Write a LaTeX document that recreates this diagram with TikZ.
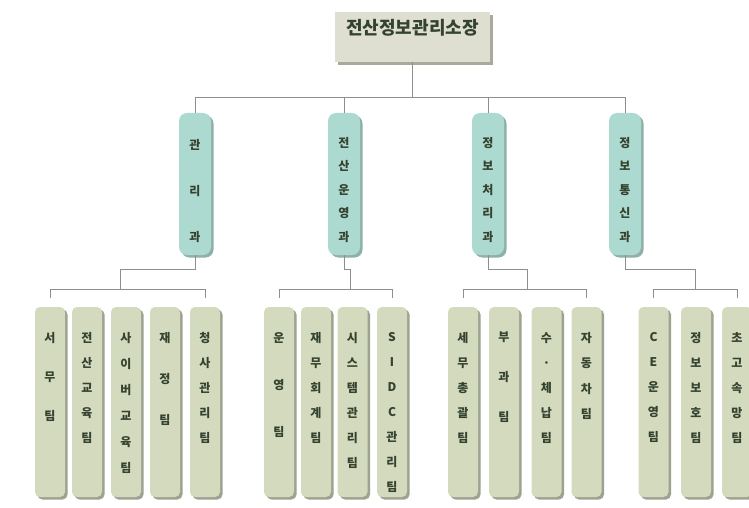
\documentclass[tikz,border=0pt]{standalone}
\usepackage{fontspec}
\newfontfamily\kfont{Noto Sans CJK KR}
\usetikzlibrary{shadows}
\definecolor{linegray}{HTML}{8E8E8E}
\definecolor{teamfill}{HTML}{D3DABD}
\definecolor{teamshadow}{HTML}{9EA290}
\definecolor{deptfill}{HTML}{ADDAD0}
\definecolor{deptshadow}{HTML}{8FB0A8}
\definecolor{topfill}{HTML}{DEDFD0}
\definecolor{topshadow}{HTML}{A9AA9A}
\definecolor{txtcol}{HTML}{34422F}
\tikzset{
  conn/.style={draw=linegray, line width=0.9pt},
  teambox/.style={rounded corners=5pt, fill=teamfill, minimum width=30pt, minimum height=190pt, inner sep=0pt,
    drop shadow={shadow xshift=2.5pt, shadow yshift=-2.5pt, fill=teamshadow, opacity=1}},
  deptbox/.style={rounded corners=8pt, fill=deptfill, minimum width=32pt, minimum height=142pt, inner sep=0pt,
    drop shadow={shadow xshift=2.5pt, shadow yshift=-2.5pt, fill=deptshadow, opacity=1}},
  topbox/.style={fill=topfill, minimum width=155pt, minimum height=50pt, inner sep=0pt,
    drop shadow={shadow xshift=3pt, shadow yshift=-3pt, fill=topshadow, opacity=1}},
  coltxt/.style={text=txtcol, align=center, inner sep=0pt, anchor=north},
  sp/.style={font=\kfont\bfseries\fontsize{12}{#1}\selectfont}
}
\begin{document}
\begin{tikzpicture}[x=1pt,y=-1pt]
\useasboundingbox (0,0) rectangle (749,508);
\fill[white] (0,0) rectangle (749,508);

% title
\node[topbox] (top) at (412.5,37) {};
\node[text=txtcol, inner sep=0pt, font=\kfont\bfseries\fontsize{18}{20}\selectfont] (toptxt) at (412.5,28) {전산정보관리소장};

% departments
\node[deptbox] (d1) at (195,184) {};
\node[deptbox] (d2) at (344,184) {};
\node[deptbox] (d3) at (488,184) {};
\node[deptbox] (d4) at (625,184) {};
\node[coltxt, sp=46] (d1t) at (195,139) {관\\리\\과};
\node[coltxt, sp=23.5] (d2t) at (344,137) {전\\산\\운\\영\\과};
\node[coltxt, sp=23.5] (d3t) at (488,137) {정\\보\\처\\리\\과};
\node[coltxt, sp=23.5] (d4t) at (625,137) {정\\보\\통\\신\\과};

% teams group 1
\node[teambox] (a1) at (50,402) {};
\node[teambox] (a2) at (87,402) {};
\node[teambox] (a3) at (126,402) {};
\node[teambox] (a4) at (165,402) {};
\node[teambox] (a5) at (205,402) {};
\node[coltxt, sp=39] (a1t) at (50,332) {서\\무\\팀};
\node[coltxt, sp=25] (a2t) at (87,332) {전\\산\\교\\육\\팀};
\node[coltxt, sp=26] (a3t) at (126,332) {사\\이\\버\\교\\육\\팀};
\node[coltxt, sp=41] (a4t) at (165,332) {재\\정\\팀};
\node[coltxt, sp=25] (a5t) at (205,332) {청\\사\\관\\리\\팀};

% teams group 2
\node[teambox] (b1) at (279,402) {};
\node[teambox] (b2) at (316,402) {};
\node[teambox] (b3) at (352.5,402) {};
\node[teambox] (b4) at (392,402) {};
\node[coltxt, sp=47] (b1t) at (279,332) {운\\영\\팀};
\node[coltxt, sp=25] (b2t) at (316,332) {재\\무\\회\\계\\팀};
\node[coltxt, sp=25] (b3t) at (352.5,332) {시\\스\\템\\관\\리\\팀};
\node[coltxt, sp=25] (b4t) at (392,332) {S\\I\\D\\C\\관\\리\\팀};

% teams group 3
\node[teambox] (c1) at (463,402) {};
\node[teambox] (c2) at (504,402) {};
\node[teambox] (c3) at (546.5,402) {};
\node[teambox] (c4) at (586.5,402) {};
\node[coltxt, sp=25] (c1t) at (463,332) {세\\무\\총\\괄\\팀};
\node[coltxt, sp=40] (c2t) at (504,332) {부\\과\\팀};
\node[coltxt, sp=25] (c3t) at (546.5,332) {수\\·\\체\\납\\팀};
\node[coltxt, sp=25.5] (c4t) at (586.5,332) {자\\동\\차\\팀};

% teams group 4
\node[teambox] (e1) at (653.5,402) {};
\node[teambox] (e2) at (696,402) {};
\node[teambox] (e3) at (737,402) {};
\node[coltxt, sp=25] (e1t) at (653.5,332) {C\\E\\운\\영\\팀};
\node[coltxt, sp=25] (e2t) at (696,332) {정\\보\\보\\호\\팀};
\node[coltxt, sp=25] (e3t) at (737,332) {초\\고\\속\\망\\팀};

% connectors: title to departments
\coordinate (busL) at (195,98);
\draw[conn] (top.south) -- (top.south |- busL);
\draw[conn] (d1.north) -- ++(0,-15) -| (d4.north);
\draw[conn] (d2.north) -- ++(0,-15);
\draw[conn] (d3.north) -- ++(0,-15);

% departments to team buses
\coordinate (g1) at (120,290);
\coordinate (g2) at (350,290);
\coordinate (g3) at (527,290);
\coordinate (g4) at (695,290);
\draw[conn] (d1.south) -- ++(0,14) -| (g1);
\draw[conn] (d2.south) -- ++(0,14) -| (g2);
\draw[conn] (d3.south) -- ++(0,14) -| (g3);
\draw[conn] (d4.south) -- ++(0,14) -| (g4);

% team buses
\draw[conn] ([yshift=9pt]a1.north) -- ++(0,-8) -| ([yshift=9pt]a5.north);
\draw[conn] ([yshift=9pt]b1.north) -- ++(0,-8) -| ([yshift=9pt]b4.north);
\draw[conn] ([yshift=9pt]c1.north) -- ++(0,-8) -| ([yshift=9pt]c4.north);
\draw[conn] ([yshift=9pt]e1.north) -- ++(0,-8) -| ([yshift=9pt]e3.north);
\end{tikzpicture}
\end{document}
